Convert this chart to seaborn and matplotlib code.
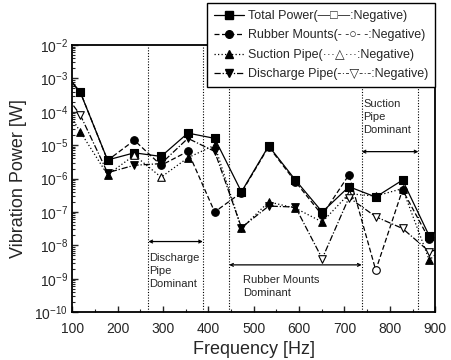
import numpy as np
import pandas as pd
import matplotlib
matplotlib.use("Agg")
import matplotlib.pyplot as plt
from matplotlib.lines import Line2D
from matplotlib.ticker import MultipleLocator, LogLocator, NullFormatter
import seaborn as sns

# harmonics of the compressor (first and last lie outside the shown range)
freq = [59, 118, 178, 237, 296, 355, 414, 473, 533, 592, 651, 710, 769, 828, 887, 946]

# sign carries the "Negative" information (open markers)
total_power = [4e-3, 3.8e-4, 3.6e-6, 5.9e-6, 4.6e-6, 2.3e-5, 1.6e-5, 4e-7, 9.5e-6, 9e-7,
               1e-7, 5.7e-7, 2.8e-7, 9e-7, 1.9e-8, 6e-8]
rubber_mounts = [3e-3, 3.9e-4, 3.5e-6, 1.4e-5, 2.5e-6, 6.5e-6, 1.0e-7, 3.8e-7, 9e-6, 8e-7,
                 8e-8, 1.3e-6, -1.8e-9, 4.6e-7, 1.5e-8, 3e-8]
suction_pipe = [5e-4, 2.5e-5, 1.3e-6, -5e-6, -1.1e-6, 4.2e-6, 1.0e-5, 3.2e-8, 2e-7, 1.3e-7,
                5e-8, -3.5e-7, 3e-7, 5e-7, 3.6e-9, 2e-8]
discharge_pipe = [1e-3, -8e-5, 1.5e-6, 2.5e-6, 2.8e-6, 1.6e-5, 6.5e-6, 3.4e-8, 1.5e-7, 1.4e-7,
                  -4e-9, -2.7e-7, -7.2e-8, -3.2e-8, -6.5e-9, 1e-8]

series_names = ["Total Power", "Rubber Mounts", "Suction Pipe", "Discharge Pipe"]
legend_labels = [
    "Total Power(\u2014\u25a1\u2014:Negative)",
    "Rubber Mounts(- -\u25cb- -:Negative)",
    "Suction Pipe(\u00b7\u00b7\u00b7\u25b3\u00b7\u00b7\u00b7:Negative)",
    "Discharge Pipe(-\u00b7-\u25bd-\u00b7-:Negative)",
]
markers = ["s", "o", "^", "v"]
dashes = [(None, None), (4, 2), (1, 1.8), (5, 1.5, 1, 1.5)]

# dominant regions: boundaries and labels
region_edges = [268, 388, 446, 738, 863]
regions = [
    (268, 388, 1.3e-8, "Discharge\nPipe\nDominant", 270, 6.0e-9),
    (446, 738, 2.6e-9, "Rubber Mounts\nDominant", 477, 1.3e-9),
    (738, 863, 6.4e-6, "Suction\nPipe\nDominant", 742, 2.4e-4),
]

rows = []
for name, vals in zip(series_names, [total_power, rubber_mounts, suction_pipe, discharge_pipe]):
    for f, v in zip(freq, vals):
        rows.append({"freq": f, "series": name, "power": abs(v), "negative": v < 0})
df = pd.DataFrame(rows)

sns.set_theme(style="ticks")
plt.rcParams["font.family"] = ["Liberation Sans", "DejaVu Sans"]
plt.rcParams["mathtext.fontset"] = "custom"
plt.rcParams["mathtext.rm"] = "Liberation Sans"

fig = plt.figure(figsize=(4.51, 3.6), dpi=100)
ax = fig.add_axes([0.160, 0.133, 0.805, 0.742])
ax.set_yscale("log")

for name, mk, ds in zip(series_names, markers, dashes):
    sub = df[df.series == name]
    sns.lineplot(data=sub, x="freq", y="power", color="black", lw=0.9,
                 ax=ax, legend=False, sort=False)
    ln = ax.lines[-1]
    if ds[0] is not None:
        ln.set_dashes(ds)
    sns.scatterplot(data=sub[~sub.negative], x="freq", y="power", marker=mk, s=30,
                    color="black", edgecolor="black", linewidth=0.8, ax=ax, legend=False,
                    zorder=4)
    sns.scatterplot(data=sub[sub.negative], x="freq", y="power", marker=mk, s=30,
                    facecolor="white", edgecolor="black", linewidth=0.8, ax=ax,
                    legend=False, zorder=4)

for xv in region_edges:
    ax.axvline(xv, color="black", lw=0.8, ls=(0, (1, 1.5)), zorder=1)

for x0, x1, ya, txt, tx, ty in regions:
    ax.annotate("", xy=(x0, ya), xytext=(x1, ya),
                arrowprops=dict(arrowstyle="<->", lw=0.9, color="black",
                                shrinkA=0, shrinkB=0, mutation_scale=5))
    ax.text(tx, ty, txt, fontsize=8, va="top", ha="left", linespacing=1.4)

ax.set_xlim(100, 900)
ax.set_ylim(1e-10, 1e-2)
ax.xaxis.set_major_locator(MultipleLocator(100))
ax.xaxis.set_minor_locator(MultipleLocator(50))
ax.yaxis.set_major_locator(LogLocator(base=10, numticks=20))
ax.yaxis.set_minor_locator(LogLocator(base=10, subs=np.arange(2, 10), numticks=20))
ax.yaxis.set_minor_formatter(NullFormatter())
ax.tick_params(which="major", direction="in", length=4, width=1, labelsize=10, pad=3)
ax.tick_params(axis="x", which="major", pad=7)
ax.tick_params(which="minor", direction="in", length=2, width=0.8)
for sp in ax.spines.values():
    sp.set_linewidth(1.3)
    sp.set_color("black")

ax.set_xlabel("Frequency [Hz]", fontsize=13, labelpad=4)
ax.set_ylabel("Vibration Power [W]", fontsize=13, labelpad=5)

handles = [Line2D([0], [0], color="black", lw=0.9, marker=mk, markersize=5.5,
                  dashes=ds if ds[0] is not None else (None, None))
           for mk, ds in zip(markers, dashes)]
handles[0].set_linestyle("-")
leg = ax.legend(handles, legend_labels, loc="upper right", bbox_to_anchor=(1.0, 1.157),
                fontsize=9, frameon=True, fancybox=False, borderaxespad=0,
                handlelength=2.4, handletextpad=0.3, labelspacing=0.6,
                borderpad=0.55)
leg.get_frame().set_edgecolor("black")
leg.get_frame().set_linewidth(1.0)
leg.get_frame().set_alpha(1)

fig.savefig("out.png", dpi=100)
